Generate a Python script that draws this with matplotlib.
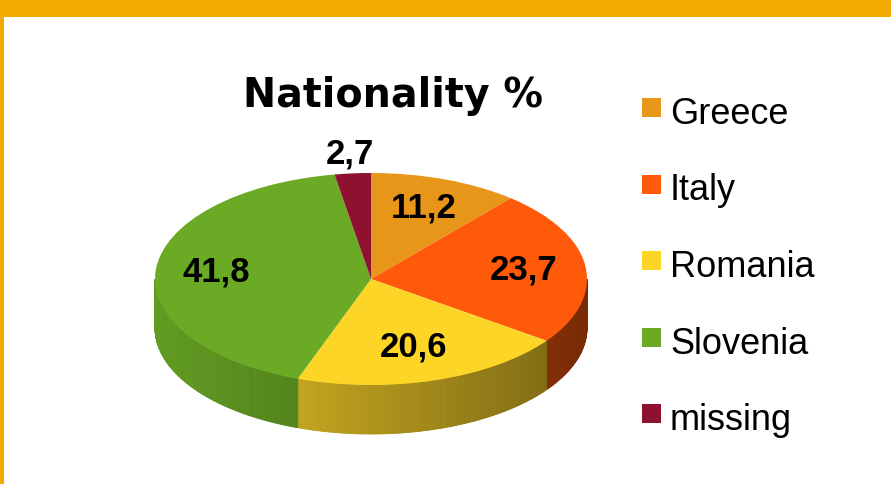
import numpy as np
import matplotlib
matplotlib.use("Agg")
import matplotlib.pyplot as plt
from matplotlib.patches import Polygon, Rectangle
from matplotlib.transforms import Affine2D
from matplotlib.colors import to_rgb

# data
countries = ["Greece", "Italy", "Romania", "Slovenia", "missing"]
shares = [11.2, 23.7, 20.6, 41.8, 2.7]
share_labels = ["11,2", "23,7", "20,6", "41,8", "2,7"]
top_colors = ["#E8961A", "#FF5A0A", "#FDD526", "#6AAA24", "#8E1230"]

# layout (pixels)
W, H = 891, 484
cx, cy = 371, 279      # centre of the top face
rx, ry = 216, 106      # half axes of the top face
depth = 49 / ry        # thickness in data units
label_r = [0.71, 0.71, 0.67, 0.72, 1.18]

fig = plt.figure(figsize=(W / 100, H / 100), dpi=100)
fig.patch.set_facecolor("white")
px = Affine2D().scale(1 / W, -1 / H).translate(0, 1) + fig.transFigure

# orange frame
fig.add_artist(Rectangle((0, 0), W, 17, transform=px, color="#F2A900", lw=0))
fig.add_artist(Rectangle((0, 0), 4, H, transform=px, color="#F2A900", lw=0))

ax = fig.add_axes([0, 0, 1, 1])
wedges, _ = ax.pie(shares, colors=top_colors, startangle=90, counterclock=False,
                   radius=1, center=(0, 0), wedgeprops=dict(linewidth=0))
ax.set_aspect("auto")
ax.set_xlim(-cx / rx, (W - cx) / rx)
ax.set_ylim(-(H - cy) / ry, cy / ry)
ax.axis("off")


def shade(xd):
    xp = cx + rx * xd
    return np.clip(0.92 - 0.45 * (xp - 155) / 433, 0.3, 1)


# side walls of the front half
bounds = 90 - np.concatenate([[0], np.cumsum(shares)]) * 3.6
for i, col in enumerate(top_colors):
    a1, a2 = bounds[i + 1], bounds[i]   # a1 < a2
    # visible front part: angles in [-180, 0] (mod 360)
    for off in (0, -360, 360):
        lo = max(a1 + off, -180)
        hi = min(a2 + off, 0)
        if hi <= lo:
            continue
        ts = np.linspace(lo, hi, int((hi - lo) * 2) + 2)
        base = np.array(to_rgb(col))
        for t0, t1 in zip(ts[:-1], ts[1:]):
            r0, r1 = np.radians(t0), np.radians(t1)
            pts = [(np.cos(r0), np.sin(r0)), (np.cos(r1), np.sin(r1)),
                   (np.cos(r1), np.sin(r1) - depth), (np.cos(r0), np.sin(r0) - depth)]
            c = base * shade((np.cos(r0) + np.cos(r1)) / 2)
            ax.add_patch(Polygon(pts, closed=True, facecolor=c, edgecolor=c,
                                 lw=0.6, zorder=0.5))

# value labels
for i, lab in enumerate(share_labels):
    mid = np.radians((bounds[i] + bounds[i + 1]) / 2)
    ax.text(label_r[i] * np.cos(mid), label_r[i] * np.sin(mid), lab,
            ha="center", va="center", fontsize=25, fontweight="bold",
            family="Liberation Sans", color="black", zorder=5)

# title
fig.text(393, 107, "Nationality %", transform=px, ha="center", va="baseline",
         fontsize=28.5, fontweight="bold", family="DejaVu Sans")

# legend
for i, (name, col) in enumerate(zip(countries, top_colors)):
    top = 98 + i * 76.5
    fig.add_artist(Rectangle((642, top), 19, 19, transform=px, color=col, lw=0))
    fig.text(670, top + 26, name, transform=px, ha="left", va="baseline",
             fontsize=26, family="Liberation Sans")

fig.savefig("out.png", dpi=100, facecolor=fig.get_facecolor())
